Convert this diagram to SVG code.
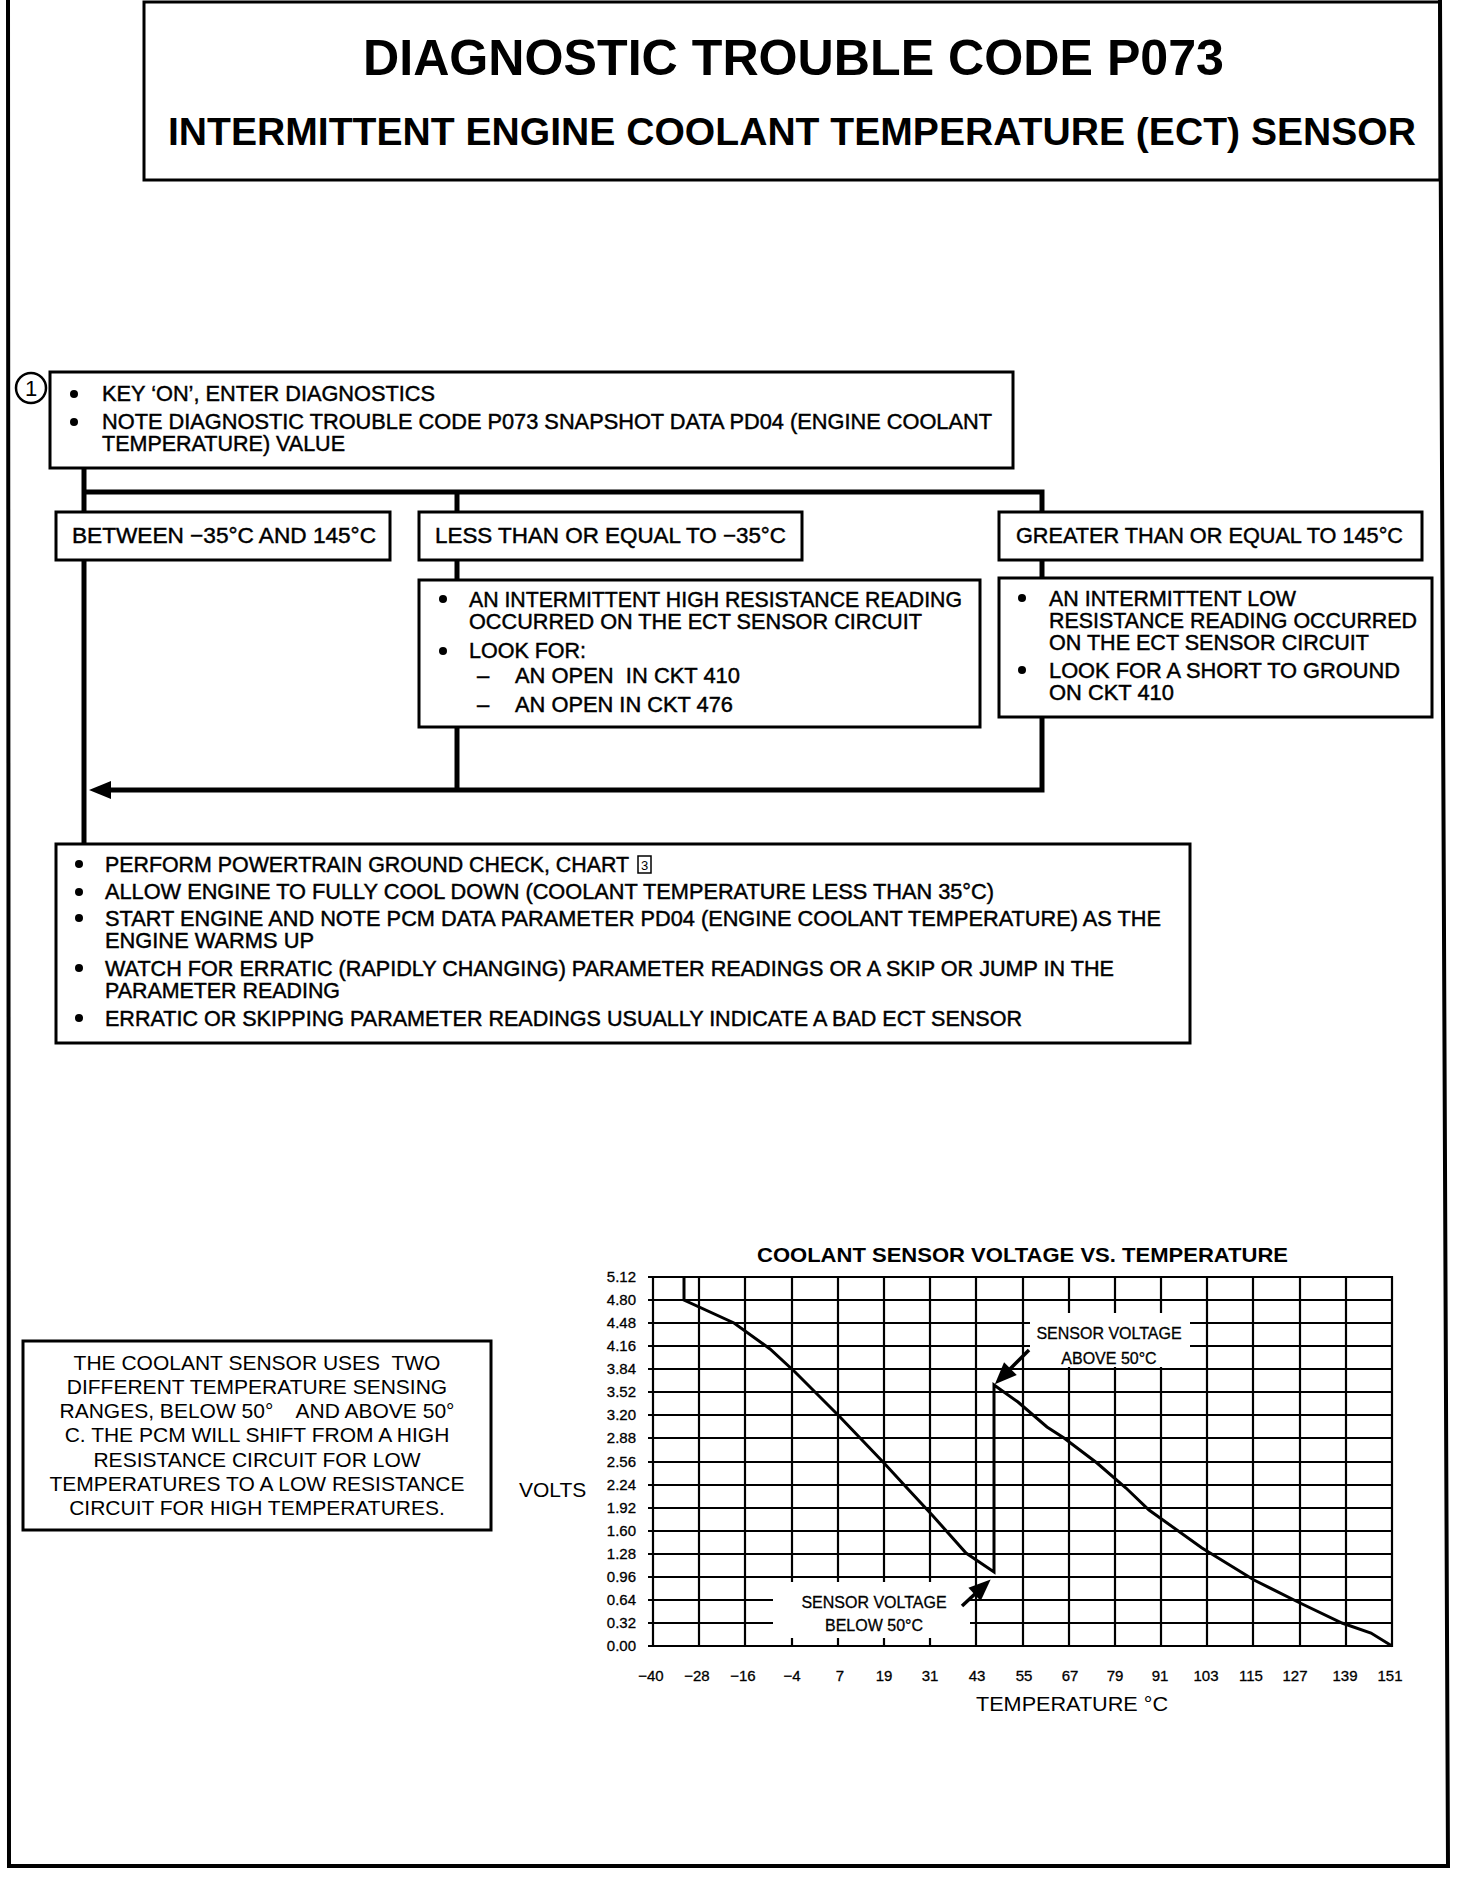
<svg xmlns="http://www.w3.org/2000/svg" width="1472" height="1878" viewBox="0 0 1472 1878">
<style>
text{font-family:"Liberation Sans",Arial,Helvetica,sans-serif;fill:#000}
.t{font-size:22px;stroke:#000;stroke-width:0.45}
.h1{font-size:50px;font-weight:bold}
.h2{font-size:39px;font-weight:bold}
.ct{font-size:21px;font-weight:bold}
.ax{font-size:15px;stroke:#000;stroke-width:0.3}
.axl{font-size:21px}
.ann{font-size:16px;text-anchor:middle;stroke:#000;stroke-width:0.3}
.note{font-size:21px;text-anchor:middle}
.box{fill:#fff;stroke:#000;stroke-width:3}
.conn{fill:none;stroke:#000;stroke-width:5}
.grid{fill:none;stroke:#000;stroke-width:2.2}
.curve{fill:none;stroke:#000;stroke-width:3}
.blank{fill:#fff;stroke:none}
.dot{fill:#000}
</style>
<defs>
<marker id="ah" markerUnits="userSpaceOnUse" markerWidth="30" markerHeight="24" viewBox="0 -12 30 24" refX="2" refY="0" orient="auto" overflow="visible"><path d="M0,-9 L22,0 L0,9 z" fill="#000"/></marker>
</defs>
<rect width="1472" height="1878" fill="#fff"/>
<polyline points="8,0 9,1866 1448,1866 1440,0" fill="none" stroke="#000" stroke-width="4"/>

<g id="title">
<rect x="144" y="2" width="1296" height="178" fill="none" stroke="#000" stroke-width="3"/>
<text class="h1" x="363" y="75" textLength="861" lengthAdjust="spacingAndGlyphs">DIAGNOSTIC TROUBLE CODE P073</text>
<text class="h2" x="168" y="145" textLength="1248" lengthAdjust="spacingAndGlyphs">INTERMITTENT ENGINE COOLANT TEMPERATURE (ECT) SENSOR</text>
</g>

<g id="connectors">
<path class="conn" d="M84,468 V844"/>
<path class="conn" d="M84,492 H1042 V512 M457,492 V512"/>
<path class="conn" d="M457,560 V580 M1042,560 V578"/>
<path class="conn" d="M457,727 V790"/>
<path class="conn" d="M1042,717 V790 H109" marker-end="url(#ah)"/>
</g>

<g id="step1">
<circle cx="31" cy="388" r="15" fill="#fff" stroke="#000" stroke-width="2.5"/>
<text x="31" y="396" font-size="22" text-anchor="middle">1</text>
<rect class="box" x="50" y="372" width="963" height="96"/>
<circle class="dot" cx="74" cy="394" r="4"/>
<circle class="dot" cx="74" cy="422" r="4"/>
<text class="t" x="102" y="401" textLength="333" lengthAdjust="spacingAndGlyphs">KEY ‘ON’, ENTER DIAGNOSTICS</text>
<text class="t"><tspan x="102" y="429" textLength="890" lengthAdjust="spacingAndGlyphs">NOTE DIAGNOSTIC TROUBLE CODE P073 SNAPSHOT DATA PD04 (ENGINE COOLANT</tspan><tspan x="102" y="451" textLength="243" lengthAdjust="spacingAndGlyphs">TEMPERATURE) VALUE</tspan></text>
</g>

<g id="between">
<rect class="box" x="56" y="512" width="334" height="48"/>
<text class="t" x="72" y="543" textLength="304" lengthAdjust="spacingAndGlyphs">BETWEEN −35°C AND 145°C</text>
</g>

<g id="lessthan">
<rect class="box" x="419" y="512" width="383" height="48"/>
<text class="t" x="435" y="543" textLength="351" lengthAdjust="spacingAndGlyphs">LESS THAN OR EQUAL TO −35°C</text>
</g>

<g id="greater">
<rect class="box" x="999" y="512" width="423" height="48"/>
<text class="t" x="1016" y="543" textLength="387" lengthAdjust="spacingAndGlyphs">GREATER THAN OR EQUAL TO 145°C</text>
</g>

<g id="highres">
<rect class="box" x="419" y="580" width="561" height="147"/>
<circle class="dot" cx="443" cy="599" r="4"/>
<circle class="dot" cx="443" cy="651" r="4"/>
<text class="t"><tspan x="469" y="607" textLength="493" lengthAdjust="spacingAndGlyphs">AN INTERMITTENT HIGH RESISTANCE READING</tspan><tspan x="469" y="629" textLength="453" lengthAdjust="spacingAndGlyphs">OCCURRED ON THE ECT SENSOR CIRCUIT</tspan></text>
<text class="t" x="469" y="658" textLength="117" lengthAdjust="spacingAndGlyphs">LOOK FOR:</text>
<text class="t" xml:space="preserve"><tspan x="477" y="683">–</tspan><tspan x="515" y="683" textLength="225" lengthAdjust="spacingAndGlyphs">AN OPEN  IN CKT 410</tspan></text>
<text class="t"><tspan x="477" y="712">–</tspan><tspan x="515" y="712" textLength="218" lengthAdjust="spacingAndGlyphs">AN OPEN IN CKT 476</tspan></text>
</g>

<g id="lowres">
<rect class="box" x="999" y="578" width="433" height="139"/>
<circle class="dot" cx="1022" cy="598" r="4"/>
<circle class="dot" cx="1022" cy="670" r="4"/>
<text class="t"><tspan x="1049" y="606" textLength="247" lengthAdjust="spacingAndGlyphs">AN INTERMITTENT LOW</tspan><tspan x="1049" y="628" textLength="368" lengthAdjust="spacingAndGlyphs">RESISTANCE READING OCCURRED</tspan><tspan x="1049" y="650" textLength="320" lengthAdjust="spacingAndGlyphs">ON THE ECT SENSOR CIRCUIT</tspan></text>
<text class="t"><tspan x="1049" y="678" textLength="351" lengthAdjust="spacingAndGlyphs">LOOK FOR A SHORT TO GROUND</tspan><tspan x="1049" y="700" textLength="125" lengthAdjust="spacingAndGlyphs">ON CKT 410</tspan></text>
</g>

<g id="step2">
<rect class="box" x="56" y="844" width="1134" height="199"/>
<circle class="dot" cx="79" cy="864" r="4"/>
<circle class="dot" cx="79" cy="892" r="4"/>
<circle class="dot" cx="79" cy="918" r="4"/>
<circle class="dot" cx="79" cy="968" r="4"/>
<circle class="dot" cx="79" cy="1018" r="4"/>
<text class="t" x="105" y="872" textLength="524" lengthAdjust="spacingAndGlyphs">PERFORM POWERTRAIN GROUND CHECK, CHART</text>
<rect x="638" y="856" width="13" height="17" fill="none" stroke="#000" stroke-width="1.5"/>
<text x="644.5" y="870" font-size="13" text-anchor="middle">3</text>
<text class="t" x="105" y="899" textLength="889" lengthAdjust="spacingAndGlyphs">ALLOW ENGINE TO FULLY COOL DOWN (COOLANT TEMPERATURE LESS THAN 35°C)</text>
<text class="t"><tspan x="105" y="926" textLength="1056" lengthAdjust="spacingAndGlyphs">START ENGINE AND NOTE PCM DATA PARAMETER PD04 (ENGINE COOLANT TEMPERATURE) AS THE</tspan><tspan x="105" y="948" textLength="209" lengthAdjust="spacingAndGlyphs">ENGINE WARMS UP</tspan></text>
<text class="t"><tspan x="105" y="976" textLength="1009" lengthAdjust="spacingAndGlyphs">WATCH FOR ERRATIC (RAPIDLY CHANGING) PARAMETER READINGS OR A SKIP OR JUMP IN THE</tspan><tspan x="105" y="998" textLength="235" lengthAdjust="spacingAndGlyphs">PARAMETER READING</tspan></text>
<text class="t" x="105" y="1026" textLength="917" lengthAdjust="spacingAndGlyphs">ERRATIC OR SKIPPING PARAMETER READINGS USUALLY INDICATE A BAD ECT SENSOR</text>
</g>

<g id="note">
<rect class="box" x="23" y="1341" width="468" height="189"/>
<text class="note" xml:space="preserve"><tspan x="257" y="1370">THE COOLANT SENSOR USES  TWO</tspan><tspan x="257" y="1394">DIFFERENT TEMPERATURE SENSING</tspan><tspan x="257" y="1418">RANGES, BELOW 50°    AND ABOVE 50°</tspan><tspan x="257" y="1442">C. THE PCM WILL SHIFT FROM A HIGH</tspan><tspan x="257" y="1467">RESISTANCE CIRCUIT FOR LOW</tspan><tspan x="257" y="1491">TEMPERATURES TO A LOW RESISTANCE</tspan><tspan x="257" y="1515">CIRCUIT FOR HIGH TEMPERATURES.</tspan></text>
</g>

<g id="chart">
<text class="ct" x="757" y="1262" textLength="531" lengthAdjust="spacingAndGlyphs">COOLANT SENSOR VOLTAGE VS. TEMPERATURE</text>
<path class="grid" d="M648,1277H1393 M648,1300H1393 M648,1323H1393 M648,1346H1393 M648,1369H1393 M648,1392H1393 M648,1415H1393 M648,1438H1393 M648,1462H1393 M648,1485H1393 M648,1508H1393 M648,1531H1393 M648,1554H1393 M648,1577H1393 M648,1600H1393 M648,1623H1393 M648,1646H1393"/>
<path class="grid" d="M653,1276V1647 M699,1276V1647 M745,1276V1647 M792,1276V1647 M838,1276V1647 M884,1276V1647 M930,1276V1647 M976,1276V1647 M1023,1276V1647 M1069,1276V1647 M1115,1276V1647 M1161,1276V1647 M1207,1276V1647 M1253,1276V1647 M1300,1276V1647 M1346,1276V1647 M1392,1276V1647"/>
<rect class="blank" x="1030" y="1313" width="160" height="54"/>
<rect class="blank" x="773" y="1582" width="197" height="56"/>
<g class="ax" text-anchor="end">
<text x="636" y="1282">5.12</text>
<text x="636" y="1305">4.80</text>
<text x="636" y="1328">4.48</text>
<text x="636" y="1351">4.16</text>
<text x="636" y="1374">3.84</text>
<text x="636" y="1397">3.52</text>
<text x="636" y="1420">3.20</text>
<text x="636" y="1443">2.88</text>
<text x="636" y="1467">2.56</text>
<text x="636" y="1490">2.24</text>
<text x="636" y="1513">1.92</text>
<text x="636" y="1536">1.60</text>
<text x="636" y="1559">1.28</text>
<text x="636" y="1582">0.96</text>
<text x="636" y="1605">0.64</text>
<text x="636" y="1628">0.32</text>
<text x="636" y="1651">0.00</text>
</g>
<g class="ax" text-anchor="middle">
<text x="651" y="1681">−40</text>
<text x="697" y="1681">−28</text>
<text x="743" y="1681">−16</text>
<text x="792" y="1681">−4</text>
<text x="840" y="1681">7</text>
<text x="884" y="1681">19</text>
<text x="930" y="1681">31</text>
<text x="977" y="1681">43</text>
<text x="1024" y="1681">55</text>
<text x="1070" y="1681">67</text>
<text x="1115" y="1681">79</text>
<text x="1160" y="1681">91</text>
<text x="1206" y="1681">103</text>
<text x="1251" y="1681">115</text>
<text x="1295" y="1681">127</text>
<text x="1345" y="1681">139</text>
<text x="1390" y="1681">151</text>
</g>
<text class="axl" x="519" y="1497">VOLTS</text>
<text class="axl" x="976" y="1711" textLength="192" lengthAdjust="spacingAndGlyphs">TEMPERATURE °C</text>
<path class="curve" d="M684,1277 V1300 L734,1323 L770,1349 L795,1372 L840,1417 L884,1463 L907,1488 L933,1516 L966,1553 L994,1572 V1385 L1018,1402 L1047,1427 L1064,1438 L1097,1463 L1126,1488 L1149,1510 L1202,1548 L1254,1580 L1298,1602 L1342,1623 L1371,1633 L1392,1646"/>
<path fill="none" stroke="#000" stroke-width="3.5" d="M1029,1350 L1009,1370" marker-end="url(#ah)"/>
<path fill="none" stroke="#000" stroke-width="3.5" d="M962,1606 L976,1593" marker-end="url(#ah)"/>
<text class="ann" x="1109" y="1339">SENSOR VOLTAGE</text>
<text class="ann" x="1109" y="1364">ABOVE 50°C</text>
<text class="ann" x="874" y="1608">SENSOR VOLTAGE</text>
<text class="ann" x="874" y="1631">BELOW 50°C</text>
</g>
</svg>
